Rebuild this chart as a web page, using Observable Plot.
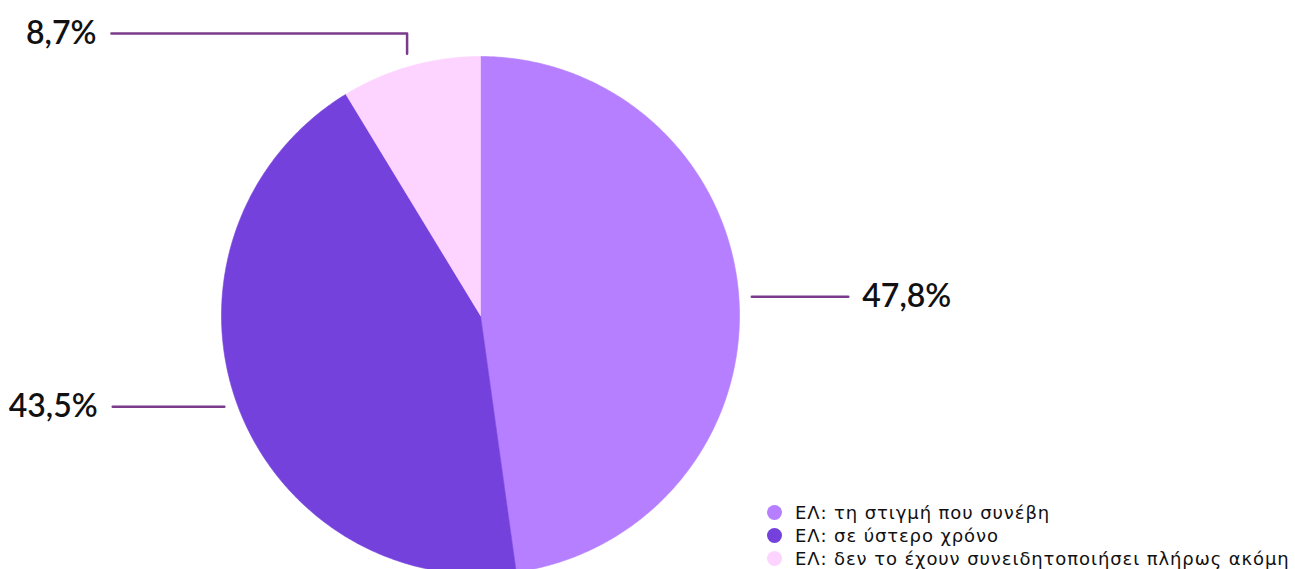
<!DOCTYPE html>
<html><head><meta charset="utf-8">
<script src="https://cdn.jsdelivr.net/npm/d3@7"></script>
<script src="https://cdn.jsdelivr.net/npm/@observablehq/plot@0.6"></script>
<style>
body{margin:0;background:#fff;overflow:hidden;font-family:Lato, "Noto Sans", sans-serif}
#wrap{position:relative;width:1295px;height:569px;overflow:hidden}
#legend{position:absolute;left:767px;top:501px;font-family:"DejaVu Sans", sans-serif;font-size:18px;letter-spacing:0.9px;line-height:23px;color:#111}
.item{display:flex;align-items:center;white-space:nowrap}
.sw{width:15px;height:15px;border-radius:50%;margin-right:13px;flex:none}
</style></head><body><div id="wrap"><div id="chart"></div><div id="legend"></div></div>
<script>
const categories = ["ΕΛ: τη στιγμή που συνέβη", "ΕΛ: σε ύστερο χρόνο", "ΕΛ: δεν το έχουν συνειδητοποιήσει πλήρως ακόμη"];
const values = [47.8, 43.5, 8.7];
const labels = ["47,8%", "43,5%", "8,7%"];
const colors = ["#b67fff", "#7541dc", "#fdd3ff"];

// layout (unit radius coordinates)
const labelEndX = [1.42, -1.42, -1.425];
const labelElbowY = [null, null, 1.089];
const leaderStartR = 1.05;

const total = d3.sum(values);
const slices = [];
const leaders = [];
const texts = [];
let acc = 0;
values.forEach((v, i) => {
  const a0 = acc / total * 2 * Math.PI;
  acc += v;
  const a1 = acc / total * 2 * Math.PI;
  const cat = categories[i];
  slices.push({cat, x: 0, y: 0});
  const n = Math.max(2, Math.ceil((a1 - a0) / (Math.PI / 360)));
  for (let k = 0; k <= n; k++) {
    const a = a0 + (a1 - a0) * k / n;
    slices.push({cat, x: Math.sin(a), y: Math.cos(a)});
  }
  slices.push({cat, x: 0, y: 0});
  const am = (a0 + a1) / 2;
  const sx = leaderStartR * Math.sin(am), sy = leaderStartR * Math.cos(am);
  leaders.push({cat, x: sx, y: sy});
  let ty = sy;
  if (labelElbowY[i] != null) {
    ty = labelElbowY[i];
    leaders.push({cat, x: sx, y: ty});
  }
  leaders.push({cat, x: labelEndX[i], y: ty});
  texts.push({label: labels[i], x: labelEndX[i], y: ty, anchor: labelEndX[i] > 0 ? "start" : "end"});
});

const R = 259, cx = 480, cy = 315, W = 1295, H = 569;
const chart = Plot.plot({
  width: W, height: H,
  margin: 0,
  x: {domain: [-cx / R, (W - cx) / R], axis: null},
  y: {domain: [-(H - cy) / R, cy / R], axis: null},
  color: {domain: categories, range: colors},
  style: {fontFamily: "Lato, 'Noto Sans', sans-serif", background: "#fff", overflow: "hidden"},
  marks: [
    Plot.line(slices, {x: "x", y: "y", z: "cat", fill: "cat", stroke: "cat", strokeWidth: 0.6, curve: "linear"}),
    Plot.line(leaders, {x: "x", y: "y", z: "cat", stroke: "#7a3b8b", strokeWidth: 2.5}),
    Plot.text(texts.filter(d => d.anchor === "start"), {x: "x", y: "y", text: "label", textAnchor: "start", dx: 14, fontSize: 32, fontWeight: 600, fill: "#111"}),
    Plot.text(texts.filter(d => d.anchor === "end"), {x: "x", y: "y", text: "label", textAnchor: "end", dx: -15, fontSize: 32, fontWeight: 600, fill: "#111"})
  ]
});
document.getElementById("chart").appendChild(chart);

const legend = document.getElementById("legend");
categories.forEach((c, i) => {
  const it = document.createElement("div");
  it.className = "item";
  const sw = document.createElement("span");
  sw.className = "sw";
  sw.style.background = colors[i];
  const tx = document.createElement("span");
  tx.textContent = c;
  it.appendChild(sw); it.appendChild(tx);
  legend.appendChild(it);
});
</script></body></html>
